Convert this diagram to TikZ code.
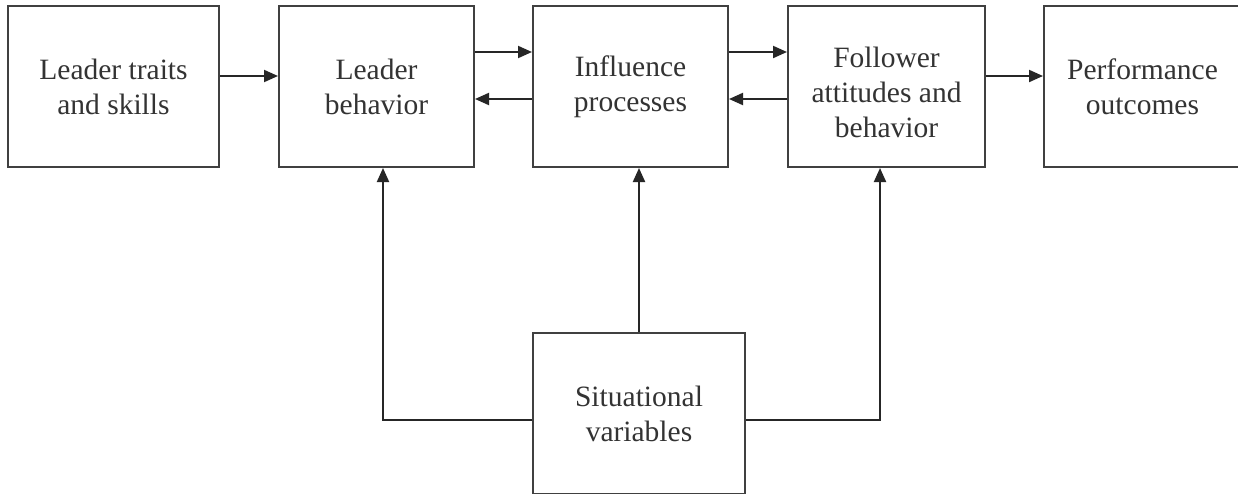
\documentclass[tikz,border=0pt]{standalone}
\usepackage{fontspec}
\setmainfont{Liberation Serif}
\usetikzlibrary{arrows.meta,calc}
\begin{document}
\begin{tikzpicture}[x=1pt,y=-1pt,
  txt/.style={align=center,font=\fontsize{29.5}{35}\selectfont,text=black!80,inner sep=0pt},
  boxx/.style={txt,draw=black!75,line width=2pt,fill=white,minimum height=161pt},
  arr/.style={draw=black!85,line width=2pt,-{Triangle[length=14pt,width=12pt]}}]
\useasboundingbox[fill=white] (0,0) rectangle (1238,493);
\node[boxx,minimum width=211pt] (b1) at (113.5,86.5) {Leader traits\\and skills};
\node[boxx,minimum width=195pt] (b2) at (376.5,86.5) {Leader\\behavior};
\node[boxx,minimum width=195pt] (b3) at (630.5,86.5) {Influence\\processes};
\node[boxx,minimum width=197pt] (b4) at (886.5,86.5) {};
\node[txt] (b4t) at ([yshift=-6pt]b4.center) {Follower\\attitudes and\\behavior};
\node[boxx,minimum width=197pt] (b5) at (1142.5,86.5) {Performance\\outcomes};
\node[boxx,minimum width=212pt] (s) at (639,413.5) {Situational\\variables};
\draw[arr] ([yshift=10.5pt]b1.east) -- ([yshift=10.5pt]b2.west);
\draw[arr] ([yshift=34.5pt]b2.east) -- ([yshift=34.5pt]b3.west);
\draw[arr] ([yshift=-12.5pt]b3.west) -- ([yshift=-12.5pt]b2.east);
\draw[arr] ([yshift=34.5pt]b3.east) -- ([yshift=34.5pt]b4.west);
\draw[arr] ([yshift=-12.5pt]b4.west) -- ([yshift=-12.5pt]b3.east);
\draw[arr] ([yshift=10.5pt]b4.east) -- ([yshift=10.5pt]b5.west);
\draw[arr] ([yshift=-6.5pt]s.west) -| ([xshift=6.5pt]b2.south);
\draw[arr] (s.north) -- (s.north |- b3.south);
\draw[arr] ([yshift=-6.5pt]s.east) -| ([xshift=-6.5pt]b4.south);
\end{tikzpicture}
\end{document}
